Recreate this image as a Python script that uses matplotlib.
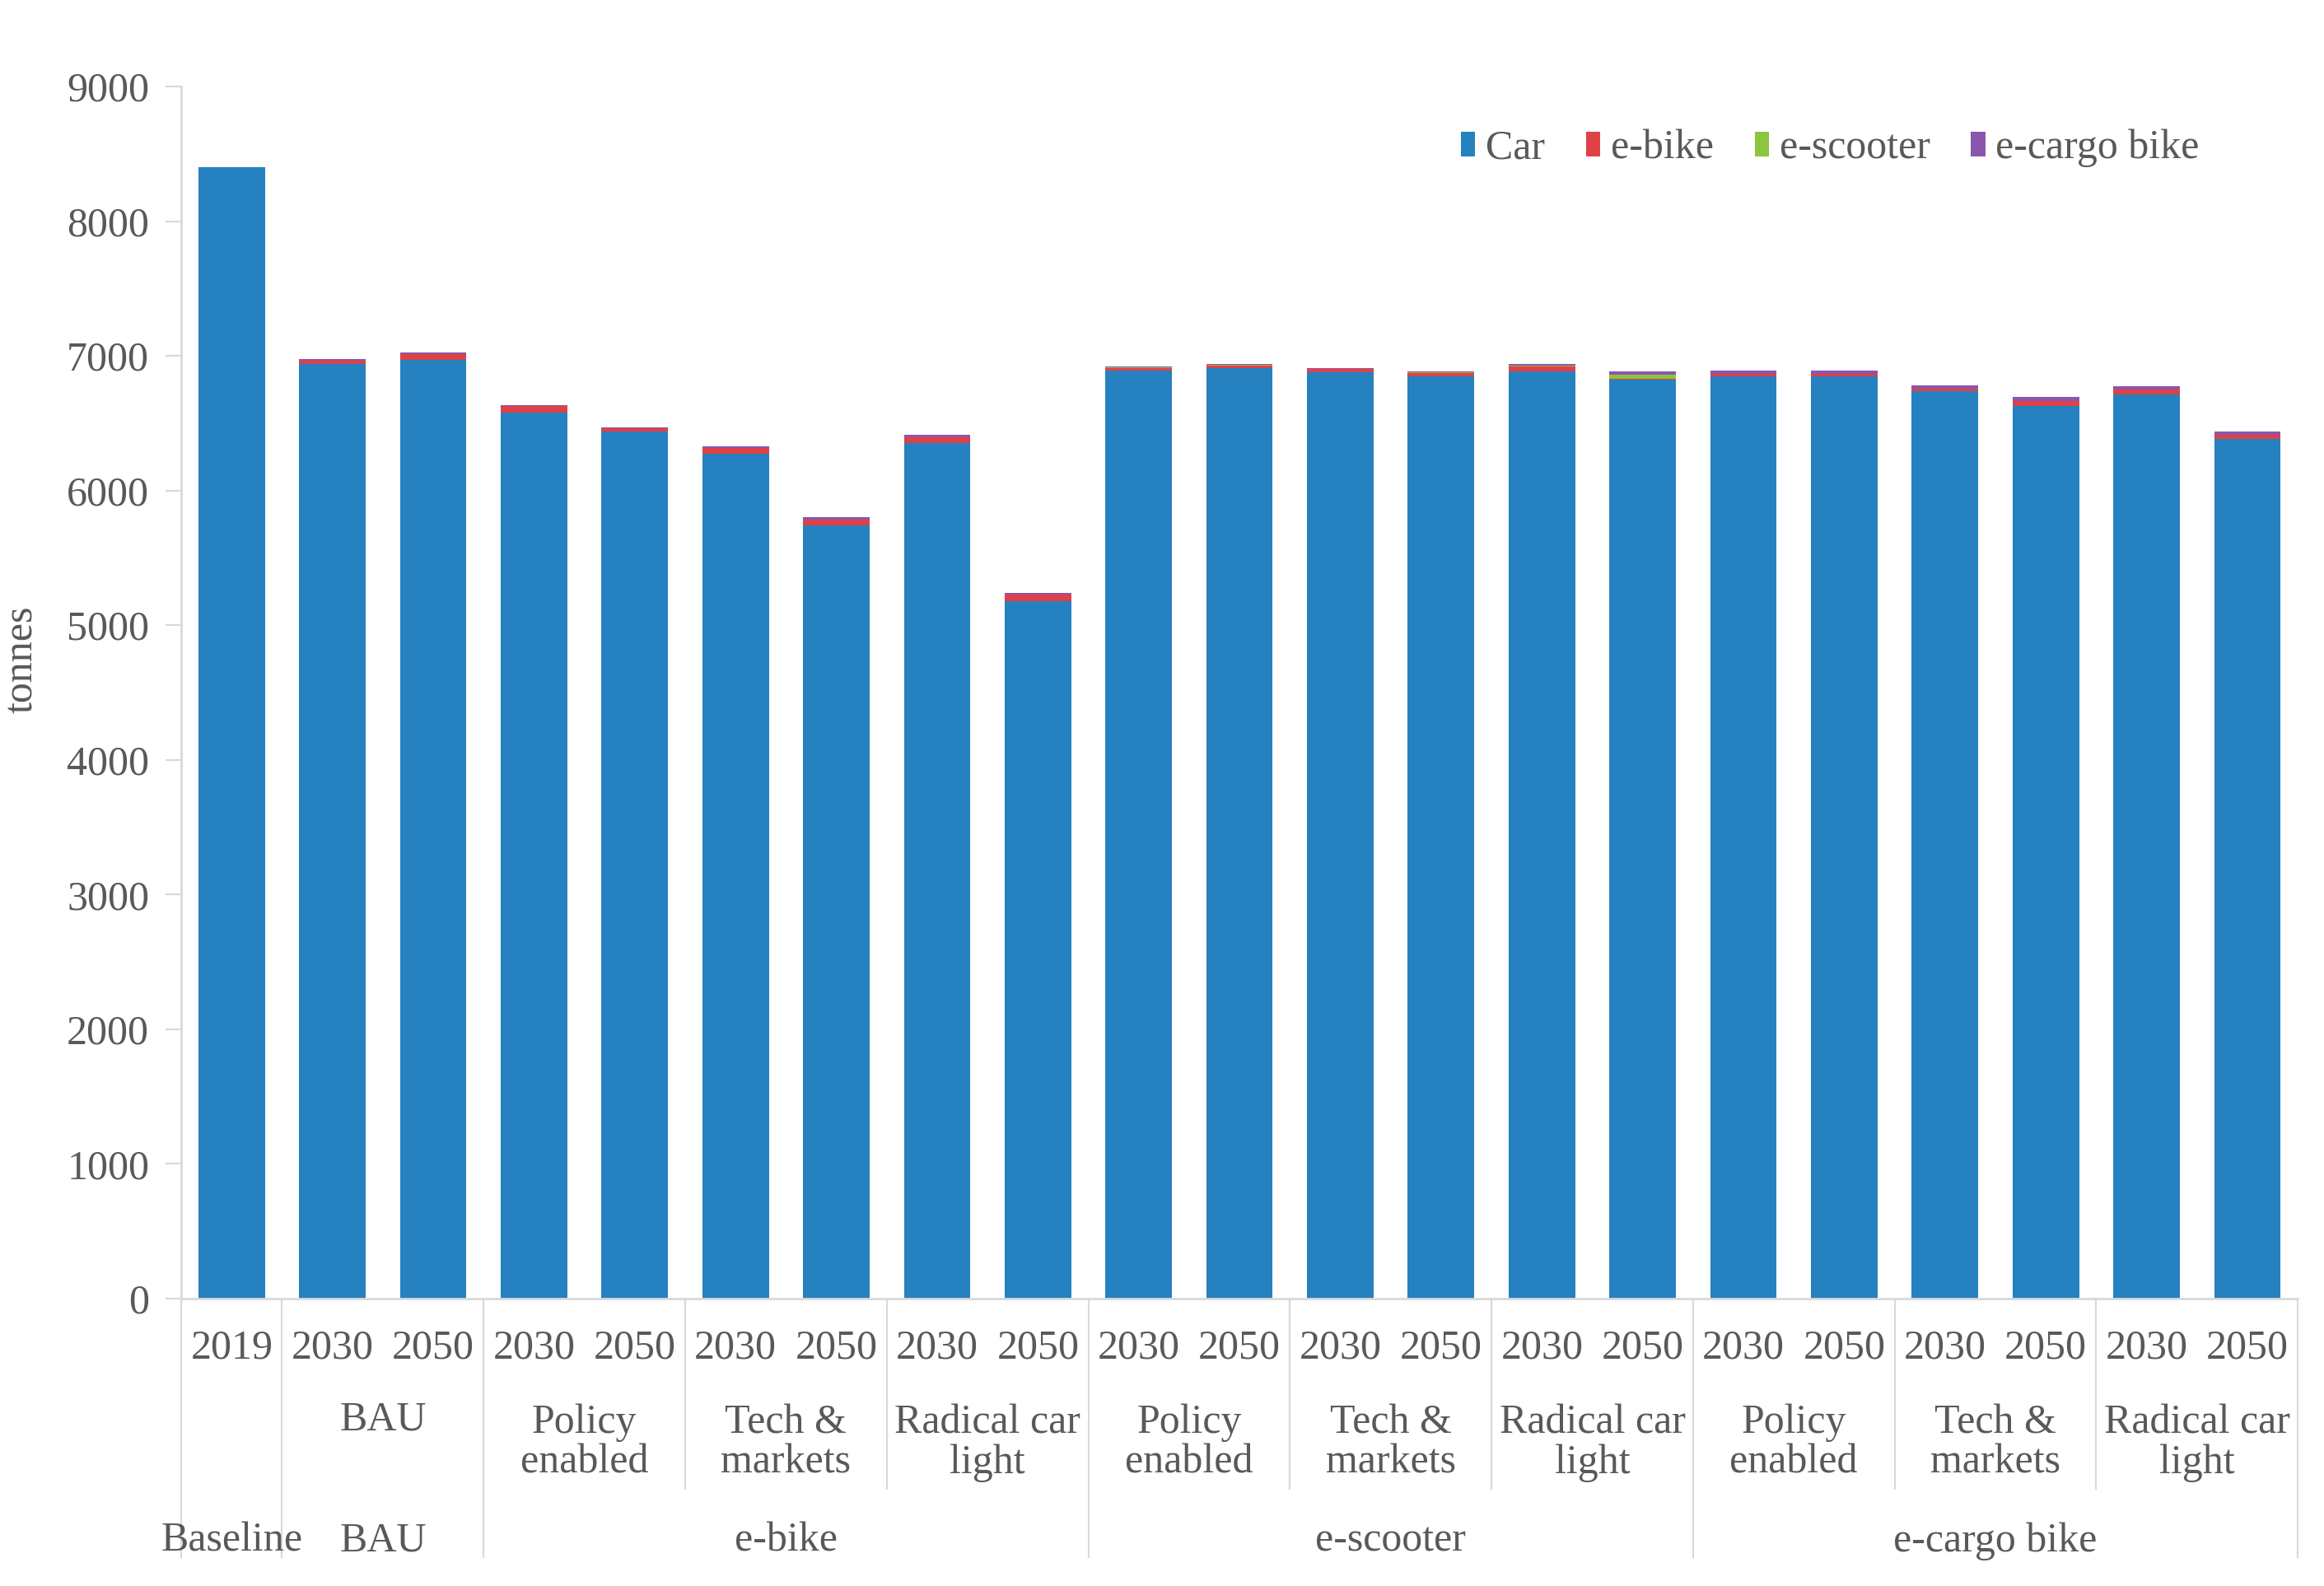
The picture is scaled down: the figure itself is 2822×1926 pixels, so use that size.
import matplotlib
matplotlib.use('Agg')

import matplotlib.pyplot as plt
import matplotlib.transforms as mtransforms
import numpy as np

# ==============================
# DATA
# ==============================

years = ["2019", "2030", "2050", "2030", "2050", "2030", "2050", "2030", "2050",
         "2030", "2050", "2030", "2050", "2030", "2050",
         "2030", "2050", "2030", "2050", "2030", "2050"]

# scenario row: (label, first bar, last bar)
scenarios = [("", 0, 0), ("BAU", 1, 2),
             ("Policy\nenabled", 3, 4), ("Tech &\nmarkets", 5, 6), ("Radical car\nlight", 7, 8),
             ("Policy\nenabled", 9, 10), ("Tech &\nmarkets", 11, 12), ("Radical car\nlight", 13, 14),
             ("Policy\nenabled", 15, 16), ("Tech &\nmarkets", 17, 18), ("Radical car\nlight", 19, 20)]

# group row: (label, first bar, last bar)
groups = [("Baseline", 0, 0), ("BAU", 1, 2), ("e-bike", 3, 8),
          ("e-scooter", 9, 14), ("e-cargo bike", 15, 20)]

car = [8400, 6940, 6970, 6580, 6440, 6275, 5740, 6350, 5180,
       6890, 6910, 6880, 6850, 6885, 6825,
       6850, 6850, 6740, 6630, 6715, 6380]
ebike = [0, 25, 40, 45, 25, 40, 45, 45, 50,
         20, 20, 20, 25, 35, 5,
         15, 15, 15, 35, 35, 35]
escooter = [0, 0, 0, 0, 0, 0, 0, 0, 0,
            5, 5, 5, 5, 5, 30,
            0, 0, 0, 0, 0, 0]
ecargo = [0, 10, 15, 10, 5, 12, 15, 20, 10,
          5, 5, 5, 5, 15, 25,
          25, 25, 25, 30, 25, 25]

series = [("Car", car, "#2681c0"),
          ("e-bike", ebike, "#e04146"),
          ("e-scooter", escooter, "#8cc63f"),
          ("e-cargo bike", ecargo, "#8a56ac")]

# ==============================
# STYLE
# ==============================

plt.rcParams['font.family'] = ['Liberation Serif', 'DejaVu Serif']
TXT = "#595959"
LINE = "#d9d9d9"
FS = 36

fig = plt.figure(figsize=(28.22, 19.26), dpi=100)
ax = fig.add_axes([0.078, 0.1812, 0.9107, 0.7643])

x = np.arange(len(years))
bottom = np.zeros(len(years))
for name, vals, col in series:
    ax.bar(x, vals, width=0.66, bottom=bottom, color=col, label=name)
    bottom += np.array(vals)

ax.set_xlim(-0.5, len(years) - 0.5)
ax.set_ylim(0, 9000)
ax.set_yticks(range(0, 9001, 1000))
ax.tick_params(axis='y', colors=LINE, labelcolor=TXT, labelsize=FS,
               length=14, width=1.5, pad=14)
ax.set_ylabel("tonnes", color=TXT, fontsize=FS)
ax.yaxis.set_label_coords(-0.066, 0.527)

ax.set_xticks([])
for s in ["top", "right"]:
    ax.spines[s].set_visible(False)
for s in ["left", "bottom"]:
    ax.spines[s].set_color(LINE)
    ax.spines[s].set_linewidth(2)

# ==============================
# MULTI-LEVEL X LABELS
# ==============================

trans = mtransforms.blended_transform_factory(ax.transData, ax.transAxes)

for i, yr in enumerate(years):
    ax.text(i, -0.041, yr, transform=trans, ha="center", va="center",
            fontsize=FS, color=TXT, clip_on=False)

for lab, a, b in scenarios:
    ypos = -0.119 if "\n" in lab else -0.100
    ax.text((a + b) / 2, ypos, lab, transform=trans, ha="center", va="center",
            fontsize=FS, color=TXT, linespacing=1.05, clip_on=False)

for lab, a, b in groups:
    ax.text((a + b) / 2, -0.200, lab, transform=trans, ha="center", va="center",
            fontsize=FS, color=TXT, clip_on=False)

# separators: short ones between scenarios, long ones between groups
group_edges = set()
for lab, a, b in groups:
    group_edges.add(a - 0.5)
    group_edges.add(b + 0.5)
for lab, a, b in scenarios:
    for e in (a - 0.5, b + 0.5):
        if e not in group_edges:
            ax.plot([e, e], [0, -0.157], transform=trans, color=LINE, lw=1.5, clip_on=False)
for e in sorted(group_edges):
    ax.plot([e, e], [0, -0.213], transform=trans, color=LINE, lw=1.5, clip_on=False)

# ==============================
# LEGEND
# ==============================

leg = ax.legend(loc="center", bbox_to_anchor=(0.779, 0.949), ncol=4, frameon=False,
                fontsize=FS, handlelength=0.35, handleheight=0.55,
                handletextpad=0.25, columnspacing=1.0)
for t in leg.get_texts():
    t.set_color(TXT)

fig.savefig("out.png", dpi=100, facecolor="white")
